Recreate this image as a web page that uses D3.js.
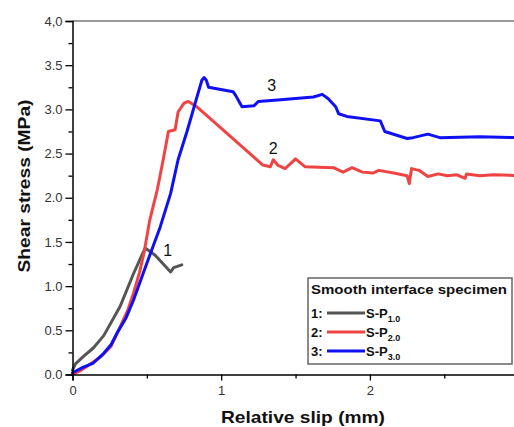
<!DOCTYPE html>
<html><head><meta charset="utf-8">
<script src="https://cdn.jsdelivr.net/npm/d3@7"></script>
<style>
html,body{margin:0;padding:0;background:#fff;}
svg{display:block;font-family:"Liberation Sans",Arial,sans-serif;}
</style></head>
<body>
<svg id="chart" width="514" height="427"></svg>
<script>
// ---- data ----
const seriesNames = ["1", "2", "3"];
const seriesColors = ["#555555", "#f04444", "#1010f5"];
const slip1 = [0, 0.02, 0.07, 0.14, 0.21, 0.32, 0.41, 0.48, 0.49, 0.556, 0.66, 0.68, 0.735];
const stress1 = [0.05, 0.12, 0.2, 0.3, 0.44, 0.77, 1.14, 1.40, 1.43, 1.35, 1.16, 1.21, 1.24];
const slip2 = [0, 0.05, 0.12, 0.19, 0.26, 0.32, 0.37, 0.41, 0.45, 0.48, 0.52, 0.57, 0.61, 0.645, 0.69, 0.71, 0.75, 0.78, 0.835, 1.28, 1.33, 1.35, 1.38, 1.43, 1.50, 1.565, 1.755, 1.82, 1.88, 1.95, 2.02, 2.06, 2.16, 2.25, 2.265, 2.28, 2.33, 2.39, 2.46, 2.52, 2.585, 2.64, 2.65, 2.74, 2.83, 3.0];
const stress2 = [0, 0.04, 0.12, 0.2, 0.32, 0.54, 0.72, 0.92, 1.15, 1.37, 1.75, 2.09, 2.43, 2.75, 2.77, 2.97, 3.07, 3.09, 3.03, 2.37, 2.35, 2.43, 2.37, 2.33, 2.44, 2.35, 2.34, 2.29, 2.34, 2.29, 2.28, 2.31, 2.28, 2.25, 2.16, 2.33, 2.31, 2.24, 2.27, 2.25, 2.26, 2.22, 2.27, 2.25, 2.26, 2.25];
const slip3 = [0, 0.07, 0.14, 0.21, 0.26, 0.30, 0.36, 0.41, 0.50, 0.59, 0.66, 0.71, 0.77, 0.825, 0.87, 0.885, 0.90, 0.915, 1.08, 1.10, 1.12, 1.14, 1.22, 1.25, 1.40, 1.62, 1.68, 1.72, 1.77, 1.79, 1.845, 2.07, 2.10, 2.25, 2.29, 2.39, 2.47, 2.74, 3.0];
const stress3 = [0.02, 0.08, 0.13, 0.24, 0.34, 0.47, 0.64, 0.84, 1.26, 1.67, 2.05, 2.43, 2.75, 3.07, 3.33, 3.36, 3.33, 3.25, 3.20, 3.15, 3.09, 3.03, 3.04, 3.09, 3.11, 3.14, 3.17, 3.12, 3.03, 2.95, 2.92, 2.87, 2.75, 2.67, 2.68, 2.72, 2.68, 2.69, 2.68];
const xTicks = [0, 1, 2, 3];
const xTickLabels = ["0", "1", "2", "3"];
const xMinorTicks = [0.5, 1.5, 2.5];
const yTicks = [0, 0.5, 1, 1.5, 2, 2.5, 3, 3.5, 4];
const yTickLabels = ["0.0", "0.5", "1.0", "1.5", "2.0", "2.5", "3.0", "3.5", "4,0"];
const yMinorTicks = [0.25, 0.75, 1.25, 1.75, 2.25, 2.75, 3.25, 3.75];
const curveLabels = [{t: "1", x: 0.64, y: 1.34}, {t: "2", x: 1.35, y: 2.5}, {t: "3", x: 1.34, y: 3.21}];
const legendTitle = "Smooth interface specimen";
const legendNums = ["1:", "2:", "3:"];
const legendSubs = ["1.0", "2.0", "3.0"];
const xTitle = "Relative  slip (mm)";
const yTitle = "Shear stress (MPa)";

// ---- layout ----
const svg = d3.select("#chart");
const L = 72.5, T = 21, B = 374.5;
const x = d3.scaleLinear().domain([0, 3]).range([L, L + 3 * 148.7]);
const y = d3.scaleLinear().domain([0, 4]).range([B, T]);

// top frame
svg.append("line").attr("x1", L).attr("x2", 514).attr("y1", T).attr("y2", T)
  .attr("stroke", "#777").attr("stroke-width", 1.5);

// curves
const series = [[slip1, stress1], [slip2, stress2], [slip3, stress3]];
const line = d3.line().x(d => x(d[0])).y(d => y(d[1]));
series.forEach((s, i) => {
  const pts = s[0].map((v, j) => [v, s[1][j]]);
  svg.append("path").datum(pts).attr("d", line).attr("fill", "none")
    .attr("stroke", seriesColors[i]).attr("stroke-width", 3)
    .attr("stroke-linejoin", "round").attr("stroke-linecap", "round");
});

// axes
const fmtY = d => yTickLabels[yTicks.indexOf(d)];
const fmtX = d => xTickLabels[xTicks.indexOf(d)];
svg.append("g").attr("transform", `translate(${L},0)`)
  .call(d3.axisLeft(y).tickValues(yTicks).tickFormat(fmtY).tickSize(7).tickPadding(3));
svg.append("g").attr("transform", `translate(${L},0)`)
  .call(d3.axisLeft(y).tickValues(yMinorTicks).tickFormat("").tickSize(4))
  .select(".domain").remove();
svg.append("g").attr("transform", `translate(0,${B})`)
  .call(d3.axisBottom(x).tickValues(xTicks).tickFormat(fmtX).tickSize(6).tickPadding(5));
svg.append("g").attr("transform", `translate(0,${B})`)
  .call(d3.axisBottom(x).tickValues(xMinorTicks).tickFormat("").tickSize(4))
  .select(".domain").remove();
svg.selectAll(".domain").attr("stroke-width", 1.5).attr("stroke", "#000");
svg.selectAll(".tick line").attr("stroke", "#000").attr("stroke-width", 1.3);
svg.selectAll(".tick text").attr("font-size", 13).attr("fill", "#333")
  .attr("font-family", "Liberation Sans, Arial, sans-serif");

// axis titles
svg.append("text").attr("x", 303).attr("y", 423).attr("text-anchor", "middle")
  .attr("font-size", 17).attr("font-weight", "bold").attr("fill", "#111")
  .attr("textLength", 164).attr("lengthAdjust", "spacingAndGlyphs").text(xTitle);
svg.append("text").attr("transform", "translate(30,186) rotate(-90)").attr("text-anchor", "middle")
  .attr("font-size", 17).attr("font-weight", "bold").attr("fill", "#111")
  .attr("textLength", 173).attr("lengthAdjust", "spacingAndGlyphs").text(yTitle);

// curve labels
curveLabels.forEach(c => {
  svg.append("text").attr("x", x(c.x)).attr("y", y(c.y)).attr("text-anchor", "middle")
    .attr("font-size", 16).attr("fill", "#111").text(c.t);
});

// legend
const lg = svg.append("g");
lg.append("rect").attr("x", 308).attr("y", 278).attr("width", 204).attr("height", 86)
  .attr("fill", "#fff").attr("stroke", "#666").attr("stroke-width", 1.5);
lg.append("text").attr("x", 311).attr("y", 294).attr("font-size", 13).attr("font-weight", "bold")
  .attr("fill", "#111").attr("textLength", 196).attr("lengthAdjust", "spacingAndGlyphs").text(legendTitle);
const rowY = [313, 332, 351];
legendNums.forEach((n, i) => {
  const ry = rowY[i];
  lg.append("text").attr("x", 311).attr("y", ry + 4.5).attr("font-size", 13).attr("font-weight", "bold")
    .attr("fill", "#111").text(n);
  lg.append("line").attr("x1", 327).attr("x2", 365).attr("y1", ry).attr("y2", ry)
    .attr("stroke", seriesColors[i]).attr("stroke-width", 3);
  const t = lg.append("text").attr("x", 366).attr("y", ry + 4.5).attr("font-size", 13)
    .attr("font-weight", "bold").attr("fill", "#111");
  t.append("tspan").text("S-P");
  t.append("tspan").attr("dy", 4).attr("font-size", 9).text(legendSubs[i]);
});
</script>
</body></html>
